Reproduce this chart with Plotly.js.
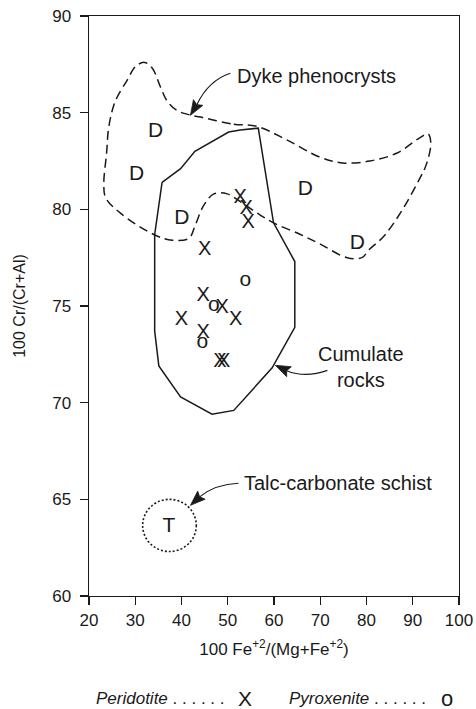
<!DOCTYPE html>
<html>
<head>
<meta charset="utf-8">
<script src="https://cdn.plot.ly/plotly-3.0.1.min.js"></script>
<style>
  html, body { margin: 0; padding: 0; background: #fff; }
  #chart { width: 476px; height: 709px; }
</style>
</head>
<body>
<div id="chart"></div>
<script>
// Peridotite samples (X)
const peridotiteFe = [52.7, 54.0, 54.4, 45.0, 44.7, 48.8, 40.0, 51.7, 44.7, 48.3, 49.1];
const peridotiteCr = [80.6, 80.0, 79.3, 77.9, 75.5, 74.9, 74.3, 74.3, 73.6, 72.1, 72.1];

// Pyroxenite samples (o)
const pyroxeniteFe = [53.8, 47.0, 44.5];
const pyroxeniteCr = [76.3, 75.0, 73.1];

// Dyke phenocrysts (D)
const dykeFe = [34.4, 30.3, 40.1, 66.8, 78.0];
const dykeCr = [84.0, 81.8, 79.5, 81.0, 78.2];

// Talc-carbonate schist (T)
const talcFe = [37.3];
const talcCr = [63.6];

// Cumulate rocks field (solid outline)
const cumulateFe = [35.8, 39.8, 42.9, 50.2, 52.7, 56.6, 59.9, 64.5, 64.5, 59.6, 51.3, 46.6, 39.8, 35.1, 34.2, 34.2, 35.8];
const cumulateCr = [81.4, 82.1, 83.0, 84.0, 84.1, 84.2, 79.3, 77.3, 73.9, 71.8, 69.6, 69.4, 70.3, 71.9, 73.7, 78.7, 81.4];

// Dyke phenocryst field (dashed outline)
const dykeFieldFe = [45.5, 51.3, 56.2, 62.7, 69.9, 74.9, 80.7, 86.5, 91.5, 93.3, 93.9, 92.9, 91.3, 87.3, 83.7, 80.5, 79.0,
  75.8, 70.0, 65.7, 59.9, 56.4, 52.7, 49.9, 47.0, 44.8, 43.0, 41.6, 38.0, 34.0, 26.8, 23.6, 23.2, 23.8, 24.3, 25.7,
  28.3, 30.1, 32.0, 33.7, 35.5, 36.9, 39.1, 41.6, 45.5];
const dykeFieldCr = [84.7, 84.4, 84.3, 83.6, 82.7, 82.4, 82.5, 82.9, 83.7, 83.9, 83.4, 82.3, 81.5, 79.8, 78.6, 77.9, 77.5,
  77.5, 78.2, 78.7, 79.3, 79.8, 80.4, 80.8, 80.8, 80.2, 79.2, 78.5, 78.4, 78.7, 79.8, 80.6, 81.3, 82.9, 84.3, 85.6,
  86.7, 87.4, 87.6, 87.3, 86.3, 85.6, 85.1, 84.9, 84.7];

// Talc-carbonate schist ring: centre and half-widths in axis units
const ringCentre = [37.4, 63.65];
const ringHalf = [5.8, 1.35];

const FONT = '"Liberation Sans", Arial, Helvetica, sans-serif';
const INK = '#1a1a1a';

const W = 476, H = 709;
const M = { l: 88.5, r: 17.3, t: 16, b: 113 };
const X_RANGE = [20, 100], Y_RANGE = [60, 90];
// axis units per screen pixel
const UX = (X_RANGE[1] - X_RANGE[0]) / (W - M.l - M.r);
const UY = (Y_RANGE[1] - Y_RANGE[0]) / (H - M.t - M.b);

function letters(xs, ys, ch, size) {
  return {
    type: 'scatter', mode: 'text', x: xs, y: ys,
    text: xs.map(() => ch), textposition: 'middle center',
    textfont: { family: FONT, size: size, color: INK },
    hoverinfo: 'x+y', showlegend: false, cliponaxis: false
  };
}

const traces = [
  {
    type: 'scatter', mode: 'lines', x: dykeFieldFe, y: dykeFieldCr,
    line: { color: INK, width: 1.5, dash: '9px,5px', shape: 'spline', smoothing: 1 },
    hoverinfo: 'skip', showlegend: false
  },
  {
    type: 'scatter', mode: 'lines', x: cumulateFe, y: cumulateCr,
    line: { color: INK, width: 1.5 },
    hoverinfo: 'skip', showlegend: false
  },
  letters(dykeFe, dykeCr, 'D', 21),
  letters(talcFe, talcCr, 'T', 21),
  letters(peridotiteFe, peridotiteCr, 'X', 20),
  letters(pyroxeniteFe, pyroxeniteCr, 'o', 21)
];

// leader arrows: curved shaft (quadratic path) ending in a filled head at the tip.
// dir = screen direction of travel at the tip (px, y downwards)
const leaders = [
  { from: [50.58, 87.04], ctrl: [45.82, 86.67], tip: [41.93, 84.86], dir: [-9, 15] },
  { from: [71.54, 71.67], ctrl: [66.79, 71.26], tip: [60.30, 71.93], dir: [-15, -7] },
  { from: [52.31, 65.83], ctrl: [47.34, 65.78], tip: [41.93, 64.69], dir: [-13, 12] }
];

function offset(pt, dxPx, dyPx) {
  return [pt[0] + dxPx * UX, pt[1] - dyPx * UY];
}

const shapes = [];
leaders.forEach(a => {
  const len = Math.hypot(a.dir[0], a.dir[1]);
  const ux = a.dir[0] / len, uy = a.dir[1] / len;
  const HL = 15, HW = 5.5, NOTCH = 12.5;
  const base = offset(a.tip, -ux * HL, -uy * HL);
  const notch = offset(a.tip, -ux * NOTCH, -uy * NOTCH);
  const b1 = offset(base, -uy * HW, ux * HW);
  const b2 = offset(base, uy * HW, -ux * HW);
  shapes.push({
    type: 'path', xref: 'x', yref: 'y',
    path: `M ${a.from[0]} ${a.from[1]} Q ${a.ctrl[0]} ${a.ctrl[1]} ${notch[0]} ${notch[1]}`,
    line: { color: INK, width: 1.1 }
  });
  shapes.push({
    type: 'path', xref: 'x', yref: 'y',
    path: `M ${a.tip[0]} ${a.tip[1]} L ${b1[0]} ${b1[1]} L ${notch[0]} ${notch[1]} L ${b2[0]} ${b2[1]} Z`,
    fillcolor: INK, line: { color: INK, width: 0.8 }
  });
});
shapes.push({
  type: 'circle', xref: 'x', yref: 'y',
  x0: ringCentre[0] - ringHalf[0], x1: ringCentre[0] + ringHalf[0],
  y0: ringCentre[1] - ringHalf[1], y1: ringCentre[1] + ringHalf[1],
  line: { color: INK, width: 1.6, dash: '2px,2px' }
});

function label(x, y, text, anchor, size, opts) {
  return Object.assign({
    x: x, y: y, xref: 'x', yref: 'y', text: text, showarrow: false,
    xanchor: anchor, yanchor: 'middle', borderpad: 0,
    font: { family: FONT, size: size, color: INK }
  }, opts || {});
}

const KEY_Y = -0.176;
const annotations = [
  label(51.7, 86.88, 'Dyke phenocrysts', 'left', 20),
  label(78.9, 71.85, 'Cumulate<br>rocks', 'center', 20, { align: 'center' }),
  label(53.4, 65.83, 'Talc-carbonate schist', 'left', 20),
  // key below the axis
  label(21.4, KEY_Y, '<i>Peridotite</i> . . . . . .', 'left', 17, { yref: 'paper' }),
  label(53.8, KEY_Y, 'X', 'center', 21, { yref: 'paper' }),
  label(63.1, KEY_Y, '<i>Pyroxenite</i> . . . . . .', 'left', 17, { yref: 'paper' }),
  label(97.4, KEY_Y, 'o', 'center', 22, { yref: 'paper' })
];

const axisCommon = {
  showgrid: false, zeroline: false, showline: true, mirror: true,
  linecolor: INK, linewidth: 1.4,
  ticks: 'outside', ticklen: 8, tickwidth: 1.3, tickcolor: INK,
  tickfont: { family: FONT, size: 17, color: INK },
  fixedrange: true
};

const layout = {
  width: W, height: H,
  margin: M,
  paper_bgcolor: '#fff', plot_bgcolor: '#fff',
  font: { family: FONT, color: INK },
  showlegend: false,
  xaxis: Object.assign({}, axisCommon, {
    range: X_RANGE, tickmode: 'linear', tick0: 20, dtick: 10,
    title: { text: '100 Fe<sup>+2</sup>/(Mg+Fe<sup>+2</sup>)', font: { family: FONT, size: 17, color: INK }, standoff: 14 }
  }),
  yaxis: Object.assign({}, axisCommon, {
    range: Y_RANGE, tickmode: 'linear', tick0: 60, dtick: 5,
    ticklabelstandoff: 5,
    title: { text: '100 Cr/(Cr+Al)', font: { family: FONT, size: 16, color: INK }, standoff: 22 }
  }),
  shapes: shapes,
  annotations: annotations
};

Plotly.newPlot('chart', traces, layout, { displayModeBar: false, staticPlot: true });
</script>
</body>
</html>
